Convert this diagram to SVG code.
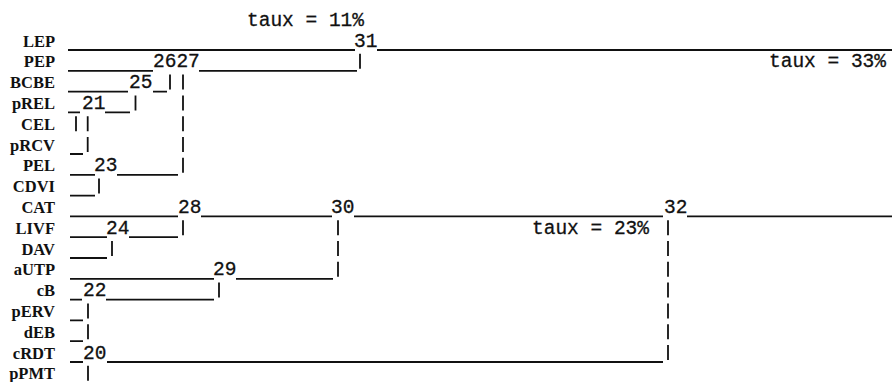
<svg xmlns="http://www.w3.org/2000/svg" width="892" height="382" viewBox="0 0 892 382">
<style>
.lbl{font-family:"Liberation Serif","Times New Roman",serif;font-size:16.5px;font-weight:bold;text-anchor:end;fill:#111}
.num{font-family:"Liberation Mono","Courier New",monospace;font-size:19.5px;fill:#111;stroke:#111;stroke-width:0.3}
.taux{font-family:"Liberation Mono","Courier New",monospace;font-size:19.5px;fill:#111;stroke:#111;stroke-width:0.3}
.ln{stroke:#111;stroke-width:1.8;fill:none}
</style>
<rect width="892" height="382" fill="#fff"/>
<g id="leaves">
<g id="leaf-LEP"><text class="lbl" x="55" y="46.5">LEP</text></g>
<g id="leaf-PEP"><text class="lbl" x="55" y="67.3">PEP</text></g>
<g id="leaf-BCBE"><text class="lbl" x="55" y="88.1">BCBE</text></g>
<g id="leaf-pREL"><text class="lbl" x="55" y="108.9">pREL</text></g>
<g id="leaf-CEL"><text class="lbl" x="55" y="129.7">CEL</text></g>
<g id="leaf-pRCV"><text class="lbl" x="55" y="150.5">pRCV</text></g>
<g id="leaf-PEL"><text class="lbl" x="55" y="171.3">PEL</text></g>
<g id="leaf-CDVI"><text class="lbl" x="55" y="192.1">CDVI</text></g>
<g id="leaf-CAT"><text class="lbl" x="55" y="212.9">CAT</text></g>
<g id="leaf-LIVF"><text class="lbl" x="55" y="233.7">LIVF</text></g>
<g id="leaf-DAV"><text class="lbl" x="55" y="254.5">DAV</text></g>
<g id="leaf-aUTP"><text class="lbl" x="55" y="275.3">aUTP</text></g>
<g id="leaf-cB"><text class="lbl" x="55" y="296.1">cB</text></g>
<g id="leaf-pERV"><text class="lbl" x="55" y="316.9">pERV</text></g>
<g id="leaf-dEB"><text class="lbl" x="55" y="337.7">dEB</text></g>
<g id="leaf-cRDT"><text class="lbl" x="55" y="358.5">cRDT</text></g>
<g id="leaf-pPMT"><text class="lbl" x="55" y="379.3">pPMT</text></g>
</g>
<g id="connectors">
<path class="ln" d="M68 50H355M377 50H892
M68 70.8H153M199 70.8H357
M68 91.6H128M153 91.6H167
M68 112.4H80M105 112.4H130
M70 154H83
M70 174.8H95M117 174.8H178
M70 195.6H95
M70 216.4H178M201 216.4H332M354 216.4H663M687 216.4H892
M70 237.2H107M129 237.2H178
M70 258H107
M70 278.8H214M236 278.8H333
M70 299.6H82M106 299.6H214
M70 320.4H83
M70 341.2H83
M70 362H83M107 362H663"/>
<path class="ln" d="M360 53.8V68.8
M170 74.6V89.6
M183 74.6V89.6M183 95.4V110.4M183 116.2V131.2M183 137V152M183 157.8V172.8
M135.5 95.4V110.4
M76 116.2V131.2
M87.7 116.2V131.2M87.7 137V152
M99 178.6V193.6
M183 220.2V235.2
M112 241V256
M338 220.2V235.2M338 241V256M338 261.8V276.8
M219 282.6V297.6
M88 303.4V318.4M88 324.2V339.2M88 365.8V380.8
M668 220.2V235.2M668 241V256M668 261.8V276.8M668 282.6V297.6M668 303.4V318.4M668 324.2V339.2M668 345V360"/>
</g>
<g id="nodes">
<g id="node-31"><text class="num" x="354" y="46.5">31</text></g>
<g id="node-26"><text class="num" x="153" y="67.3">26</text></g>
<g id="node-27"><text class="num" x="176.4" y="67.3">27</text></g>
<g id="node-25"><text class="num" x="129" y="88.1">25</text></g>
<g id="node-21"><text class="num" x="82" y="108.9">21</text></g>
<g id="node-23"><text class="num" x="94" y="171.3">23</text></g>
<g id="node-28"><text class="num" x="178" y="212.9">28</text></g>
<g id="node-30"><text class="num" x="331" y="212.9">30</text></g>
<g id="node-32"><text class="num" x="664" y="212.9">32</text></g>
<g id="node-24"><text class="num" x="106" y="233.7">24</text></g>
<g id="node-29"><text class="num" x="213" y="275.3">29</text></g>
<g id="node-22"><text class="num" x="83" y="296.1">22</text></g>
<g id="node-20"><text class="num" x="83" y="358.5">20</text></g>
</g>
<g id="cut-labels">
<text class="taux" x="247" y="25.5">taux = 11%</text>
<text class="taux" x="769" y="67.3">taux = 33%</text>
<text class="taux" x="532" y="233.7">taux = 23%</text>
</g>
</svg>
